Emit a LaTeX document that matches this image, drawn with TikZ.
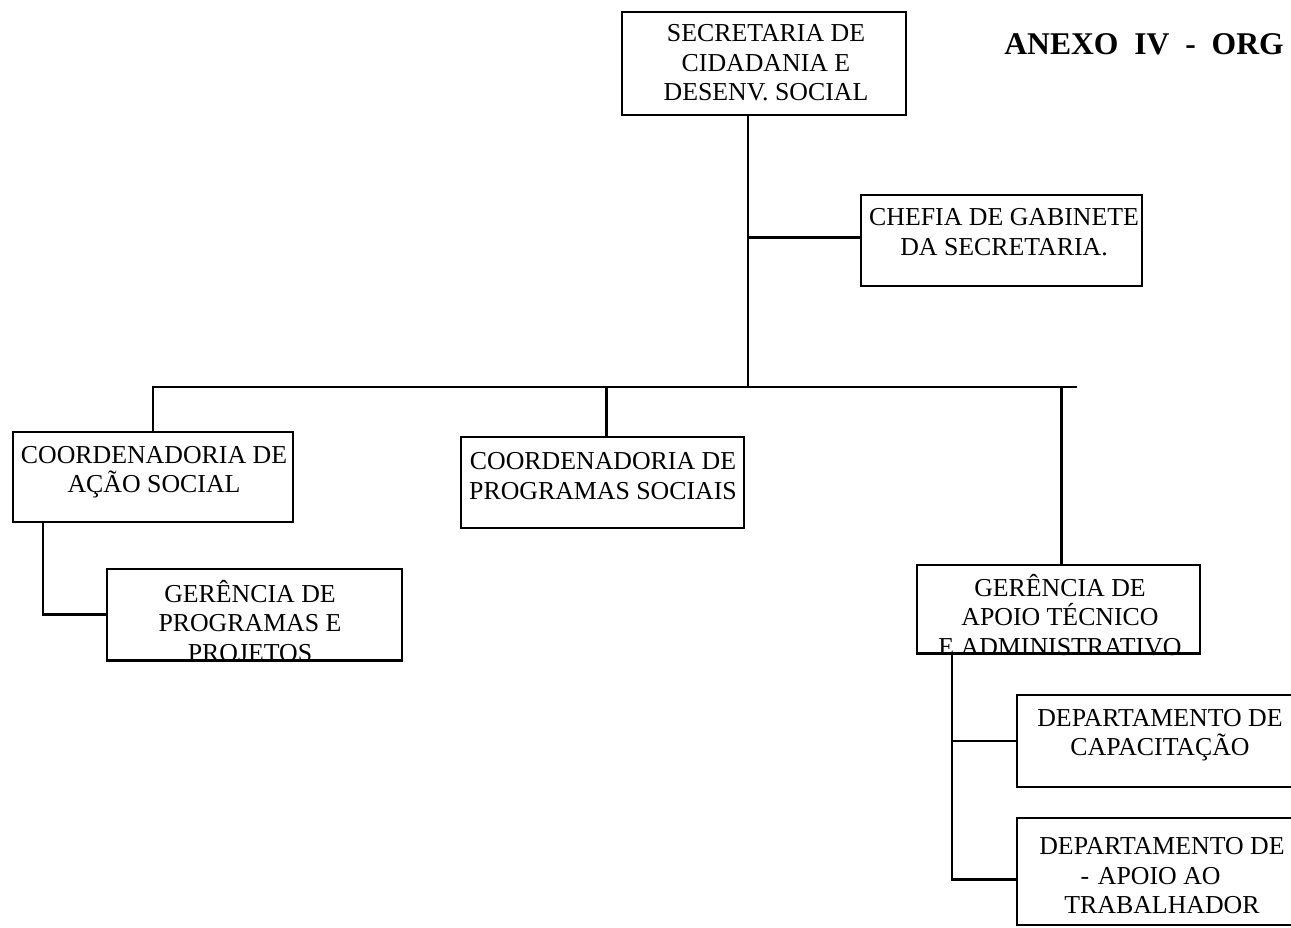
\documentclass[tikz,border=0pt]{standalone}
\usepackage{fontspec}
\setmainfont{Liberation Serif}
\usetikzlibrary{fit,calc}
\begin{document}
\begin{tikzpicture}[x=0.02cm,y=-0.02cm,
  box/.style={draw, line width=1.1pt, inner sep=0pt},
  lbl/.style={font=\fontsize{14.7}{16.8}\selectfont, align=center, inner sep=0pt},
  link/.style={line width=1.2pt},
  heading/.style={font=\fontsize{18}{20}\selectfont\bfseries, anchor=base west, inner sep=0pt}]
\useasboundingbox (0,0) rectangle (1291,927);
\clip (0,0) rectangle (1291,927);

% title, set with wide word spaces
\node[heading] (ttl) at (1004,54) {\spaceskip=9pt\relax ANEXO IV - ORG};

% unit boxes
\node[box, fit={(622,12) (906,115)}]   (sec) {};
\node[box, fit={(861,195) (1142,286)}] (chf) {};
\node[box, fit={(13,432) (293,522)}]   (coa) {};
\node[box, fit={(461,437) (744,528)}]  (cop) {};
\node[box, fit={(107,569) (402,660)}]  (gp)  {};
\node[box, fit={(917,565) (1200,653)}] (gap) {};
\node[box, fit={(1017,695) (1320,787)}] (dc) {};
\node[box, fit={(1017,818) (1320,925)}] (da) {};

% unit names
\node[lbl] (sec-t) at (766,63)  {SECRETARIA DE\\CIDADANIA E\\DESENV. SOCIAL};
\node[lbl] (chf-t) at (1004,232) {CHEFIA DE GABINETE\\DA SECRETARIA.};
\node[lbl] (coa-t) at (154,472) {COORDENADORIA DE\\AÇÃO SOCIAL};
\node[lbl] (cop-t) at (603,476) {COORDENADORIA DE\\PROGRAMAS SOCIAIS};
\node[lbl] (gp-t)  at (250,621) {GERÊNCIA DE\\PROGRAMAS E\\PROJETOS};
\node[lbl] (gap-t) at (1060,615) {GERÊNCIA DE\\APOIO TÉCNICO\\E ADMINISTRATIVO};
\node[lbl] (dc-t)  at (1160,735) {DEPARTAMENTO DE\\CAPACITAÇÃO};
\node[lbl] (da-t)  at (1162,876) {DEPARTAMENTO DE\\-\hspace{5pt}APOIO AO\rule{13pt}{0pt}\\TRABALHADOR};

% redraw borders over the overflowing last lines
\draw[line width=1.1pt] (gp.south west) -- (gp.south east);
\draw[line width=1.1pt] (gap.south west) -- (gap.south east);

% connectors
\coordinate (trunk) at (748,387);
\coordinate (busL) at (152,387);
\coordinate (busR) at (1077,387);
\draw[link] (sec.south -| trunk) -- (trunk);
\draw[link] ($(chf.west)+(0,-3)$) -- ($(chf.west -| trunk)+(0,-3)$);
\draw[link] (busL) -- (busR);
\draw[link] (coa.north) -- (coa.north |- trunk);
\draw[link] ($(cop.north)+(4,0)$) -- ($(cop.north |- trunk)+(4,0)$);
\draw[link] ($(gap.north)+(3,0)$) -- ($(gap.north |- trunk)+(3,0)$);
\draw[link] ($(coa.south west)+(31,0)$) |- (gp.west);
\draw[link] ($(gap.south west)+(36,0)$) |- (dc.west);
\draw[link] ($(gap.south west)+(36,0)$) |- ($(da.west)+(0,8)$);
\end{tikzpicture}
\end{document}
